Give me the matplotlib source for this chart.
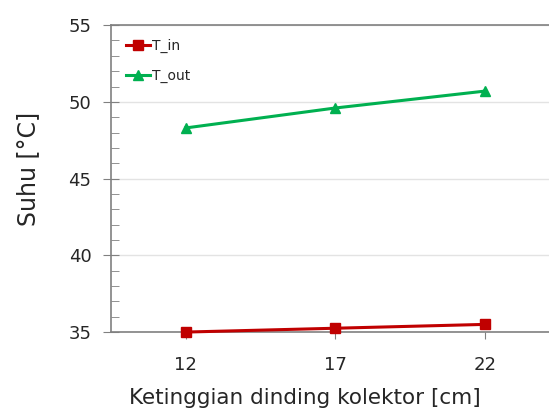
import matplotlib.pyplot as plt
from matplotlib.ticker import MultipleLocator

# data
heights = ['12', '17', '22']
t_in = [35.0, 35.25, 35.5]
t_out = [48.3, 49.6, 50.7]

plt.rcParams['font.family'] = ['DejaVu Sans']
txt = '#262626'
grey = '#808080'

fig = plt.figure(figsize=(5.49, 4.12), dpi=100)
ax = fig.add_axes([0.202, 0.194, 0.798, 0.745])

pos = range(1, len(heights) + 1)
ax.plot(pos, t_in, color='#C00000', lw=2.2, marker='s', ms=6.8,
        label='T_in', clip_on=False, zorder=3)
ax.plot(pos, t_out, color='#00B050', lw=2.2, marker='^', ms=7.5,
        label='T_out', clip_on=False, zorder=3)

ax.set_xlim(0.5, 3.43)
ax.set_ylim(35, 55)
ax.set_xticks(list(pos))
ax.set_xticklabels(heights)
ax.yaxis.set_major_locator(MultipleLocator(5))
ax.yaxis.set_minor_locator(MultipleLocator(1))

ax.grid(axis='y', which='major', color='#E3E3E3', lw=1)
ax.set_axisbelow(True)
ax.spines['right'].set_visible(False)
for s in ['left', 'bottom', 'top']:
    ax.spines[s].set_color(grey)
    ax.spines[s].set_linewidth(1.2)

ax.tick_params(axis='y', which='major', direction='inout', length=12,
               color=grey, labelsize=13, labelcolor=txt, pad=8)
ax.tick_params(axis='y', which='minor', direction='in', length=6,
               color=grey)
ax.tick_params(axis='x', direction='out', length=5, color=grey,
               labelsize=13, labelcolor=txt, pad=12)

# the original plot area ran past the crop on the right, so the
# axis titles sit left of / above the visible centre
ax.set_xlabel('Ketinggian dinding kolektor [cm]', fontsize=15.5, color=txt)
ax.xaxis.set_label_coords(0.443, -0.182)
ax.set_ylabel('Suhu [°C]', fontsize=17, color=txt)
ax.yaxis.set_label_coords(-0.162, 0.53)

ax.legend(loc='upper left', frameon=False, fontsize=10, handlelength=1.7,
          handletextpad=0.15, labelspacing=1.1, borderaxespad=0.0,
          borderpad=0.0, bbox_to_anchor=(0.035, 0.955), labelcolor=txt)

fig.savefig('out.png', dpi=100)
